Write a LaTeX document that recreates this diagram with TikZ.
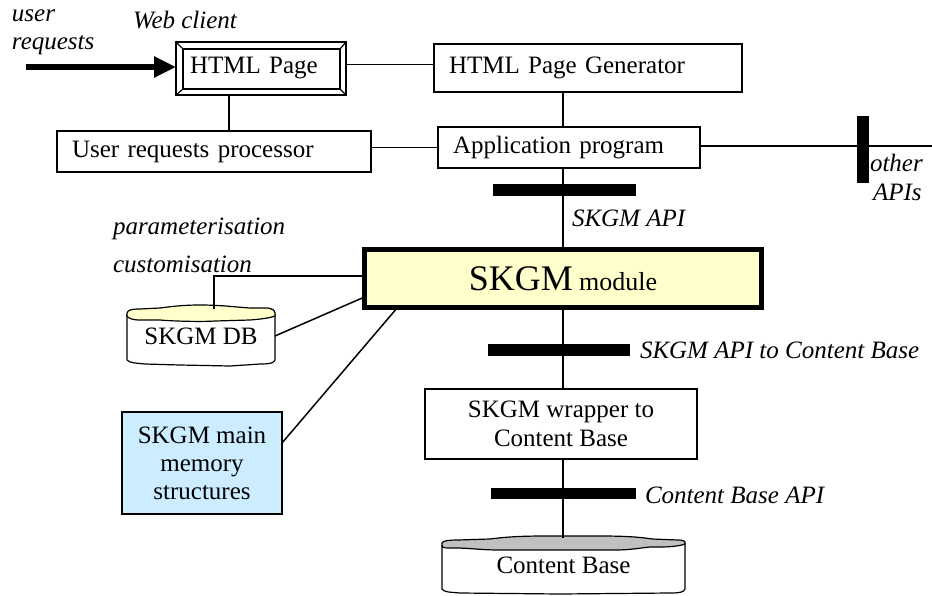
\documentclass[tikz,border=0pt]{standalone}
\usepackage{fontspec}
\setmainfont{Liberation Serif}
\usetikzlibrary{arrows.meta}
\definecolor{modfill}{HTML}{FFFFCC}
\definecolor{memfill}{HTML}{CCECFF}
\definecolor{cbtop}{HTML}{C0C0C0}
\begin{document}
\begin{tikzpicture}[x=1pt,y=-1pt,
  every node/.style={inner sep=0pt, outer sep=0pt, font=\fontsize{25}{28}\selectfont},
  box/.style={draw, line width=1.5pt, fill=white},
  lbox/.style={box, align=left, inner xsep=15pt},
  lbl/.style={anchor=west, font=\fontsize{25}{28}\selectfont\itshape},
  conn/.style={line width=1.5pt},
  apibar/.style={fill=black, draw=none},
  cyl/.style={line width=1.2pt}]
\useasboundingbox (0,0) rectangle (932,595);

% ---- boxes
\node[lbox, inner xsep=14pt, text width=142pt, minimum height=53pt] (html) at (261,68.5) {HTML Page};
\node[lbox, text width=278pt, minimum height=48pt] (gen) at (588,68) {HTML Page Generator};
\node[lbox, text width=284pt, minimum height=41pt] (urp) at (214,151.5) {User requests processor};
\node[lbox, text width=232pt, minimum height=41pt] (app) at (569,147.5) {Application program};
\node[draw, line width=5pt, fill=modfill, minimum width=397pt, minimum height=58pt] (mod) at (563,278.5)
  {{\fontsize{36}{40}\selectfont SKGM} {\fontsize{26}{30}\selectfont module}};
\node[box, fill=memfill, align=center, minimum width=160pt, minimum height=102pt] (mem) at (202,463)
  {SKGM main\\memory\\structures};
\node[box, align=center, minimum width=272pt, minimum height=70pt, font=\fontsize{25}{29}\selectfont] (wrap) at (561,424)
  {SKGM wrapper to\\Content Base};

% bevel of HTML Page
\draw[line width=1.2pt] ([shift={(7pt,-7pt)}]html.north west) rectangle ([shift={(-6pt,6pt)}]html.south east);
\draw[line width=1.2pt] (html.north west) -- ++(7pt,-7pt);
\draw[line width=1.2pt] (html.north east) -- ++(-6pt,-7pt);
\draw[line width=1.2pt] (html.south west) -- ++(7pt,6pt);
\draw[line width=1.2pt] (html.south east) -- ++(-6pt,6pt);

% ---- SKGM DB cylinder
\draw[cyl, fill=white] (127,314) -- (127,360) .. controls (130,363) and (135,363) .. (145,364) -- (180,365) -- (230,366) -- (260,364) .. controls (270,364) and (274,363) .. (275,360) -- (275,314);
\filldraw[cyl, fill=modfill] (127,313) .. controls (128,310) and (131,309) .. (140,309) -- (160,308) .. controls (175,306) and (185,305) .. (200,305) .. controls (220,305) and (235,307) .. (250,308) -- (268,308) .. controls (272,309) and (275,310) .. (275,313) -- (275,316) .. controls (270,318) and (262,319) .. (250,320) -- (215,321) .. controls (200,322) and (170,321) .. (160,320) -- (140,320) .. controls (132,320) and (128,318) .. (127,316) -- cycle;
\node[minimum width=148pt, minimum height=58pt] (db) at (201,336) {\raisebox{-5pt}{SKGM DB}};

% ---- Content Base cylinder
\draw[cyl, fill=white] (442,545) -- (442,589) .. controls (444,592) and (448,592) .. (460,593) -- (560,594) -- (670,593) .. controls (680,593) and (684,592) .. (685,589) -- (685,543);
\filldraw[cyl, fill=cbtop] (442,543) .. controls (443,541) and (447,540) .. (458,540) -- (490,539) .. controls (505,537) and (520,536) .. (545,536) -- (600,536) .. controls (625,536) and (640,537) .. (652,539) -- (678,540) .. controls (683,540) and (685,541) .. (685,542) -- (685,544) .. controls (680,546) and (670,547) .. (660,547) -- (650,547) .. controls (640,548) and (630,550) .. (615,550) -- (500,550) .. controls (480,550) and (470,548) .. (455,548) -- (448,548) .. controls (444,548) and (442,547) .. (442,546) -- cycle;
\node[minimum width=243pt, minimum height=55pt] (cb) at (563.5,565.5) {\raisebox{-5pt}{Content Base}};

% ---- labels
\node[lbl] (luser) at (12,16) {user};
\node[lbl] (lreq) at (12,45) {requests};
\node[lbl] (lweb) at (133,20) {Web client};
\node[lbl] (lparam) at (113,229) {parameterisation};
\node[lbl] (lcust) at (113,264) {customisation};
\node[lbl] (lapi) at (572,218) {SKGM API};
\node[lbl] (lapicb) at (640,350) {SKGM API to Content Base};
\node[lbl] (lcbapi) at (645,495) {Content Base API};
\node[lbl] (lother) at (870,163) {other};
\node[lbl] (lapis) at (873,192) {APIs};

% ---- connectors
\coordinate (spine) at (563,0);
\coordinate (userstart) at (26,67);
\coordinate (otherend) at (932,146);
\coordinate (custend) at (214,276);

\draw[line width=6pt, -{Triangle[length=22pt,width=20pt]}] (userstart) -- (html.west |- userstart);
\draw[conn] ([yshift=4pt]html.east) -- ([yshift=4pt]html.east -| gen.west);
\draw[conn] ([xshift=-32pt]html.south) -- ([xshift=-32pt]html.south |- urp.north);
\draw[conn] (urp.east |- app.west) -- (app.west);
\draw[conn] (gen.south -| spine) -- (app.north -| spine);
\draw[conn] (app.south -| spine) -- (mod.north -| spine);
\draw[conn] (mod.south -| spine) -- (wrap.north -| spine);
\draw[conn] (wrap.south -| spine) -- (cb.north -| spine);
\draw[conn] (app.east |- otherend) -- (otherend);
\draw[conn] (custend -| mod.west) -- (custend) -- ([yshift=-2pt]db.north -| custend);
\draw[conn] (db.east) -- ([yshift=-18.5pt]mod.west);
\draw[conn] ([xshift=33pt]mod.south west) -- ([yshift=20pt]mem.east);

% ---- API bars
\node[apibar, minimum width=143pt, minimum height=12pt] (bar1) at (564.5,190) {};
\node[apibar, minimum width=142pt, minimum height=12pt] (bar2) at (559,350) {};
\node[apibar, minimum width=145pt, minimum height=11pt] (bar3) at (563.5,493.5) {};
\node[apibar, minimum width=12pt, minimum height=67pt] (barO) at (863,149.5) {};
\end{tikzpicture}
\end{document}
